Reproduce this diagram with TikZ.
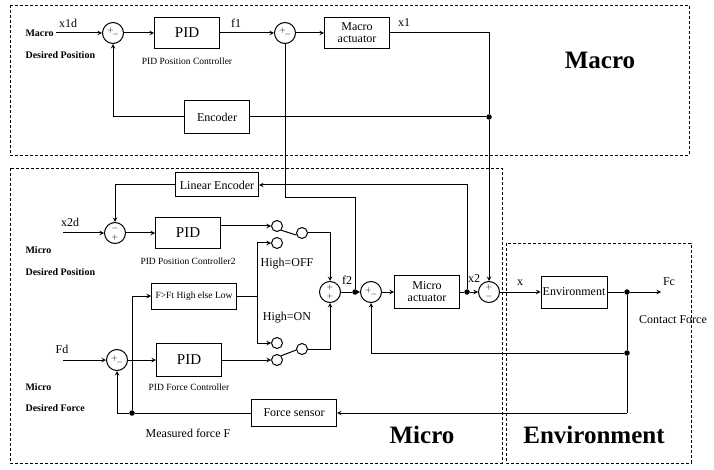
\documentclass[tikz,border=0pt]{standalone}
\usepackage{fontspec}
\setmainfont{Liberation Serif}
\usetikzlibrary{shapes,arrows,positioning}
\newcommand{\sgnpm}{\raisebox{1pt}{$+$}\kern-1.5pt\raisebox{-3pt}{$-$}}
\newcommand{\sgnmp}{$-$\\[1.5pt]$+$}
\newcommand{\sgnpp}{$+$\\[2pt]$+$}
\newcommand{\sgnpn}{$+$\\[1.5pt]$-$}

\begin{document}
\begin{tikzpicture}[x=1pt,y=-1pt,
    box/.style={rectangle,draw=black,line width=1pt,minimum width=65pt,minimum height=31pt,inner sep=1pt,align=center,font=\fontsize{12}{12}\selectfont},
    pidbox/.style={box,font=\fontsize{15}{15}\selectfont},
    sum/.style={circle,draw=black,line width=1pt,minimum size=21pt,inner sep=0pt,align=center,font=\fontsize{8.5}{7}\selectfont},
    contact/.style={circle,draw=black,line width=1pt,minimum size=11pt,inner sep=0pt},
    frame/.style={draw=black,densely dashed,line width=0.9pt},
    arrow/.style={->,>=stealth,line width=1pt},
    wire/.style={line width=1pt},
    dot/.style={circle,fill=black,minimum size=5.5pt,inner sep=0pt},
    labelstyle/.style={font=\fontsize{9.5}{10}\selectfont},
    sig/.style={font=\fontsize{12}{12}\selectfont},
    inlabel/.style={font=\bfseries\fontsize{10}{11}\selectfont,anchor=west},
    region/.style={font=\bfseries\fontsize{25}{26}\selectfont}
]
\useasboundingbox (0,0) rectangle (714,470);
\draw[frame] (10,5) rectangle (689,155);
\draw[frame] (10,168) rectangle (502,463);
\draw[frame] (506,243) rectangle (691,463);

\node[inlabel] (mtxt) at (22,33) {Macro};
\node[inlabel] (mdes) at (22,55) {Desired Position};
\node[sig] (x1d) at (68,23) {x1d};
\coordinate (in1) at (56,33);
\node[sum] (s1) at (113,33) {\sgnpm};
\node[pidbox] (pid1) at (187,33) {PID};
\node[labelstyle,below=5pt of pid1] (pid1l) {PID Position Controller};
\node[sig] (f1) at (236,23) {f1};
\node[sum] (s2) at (285,33) {\sgnpm};
\node[box] (mact) at (357,33) {Macro\\actuator};
\node[sig] (x1) at (404,23) {x1};
\coordinate (x1c) at (489,33);
\node[dot] (d1) at (489,117) {};
\node[box,minimum height=33pt] (enc) at (217,117) {Encoder};
\node[region] (macro) at (600,60) {Macro};

\node[box,minimum width=83pt,minimum height=24pt] (lenc) at (217,185) {Linear Encoder};
\node[sig] (x2d) at (70,222) {x2d};
\coordinate (in2) at (63,233);
\node[sum] (s3) at (115,233) {\sgnmp};
\node[pidbox] (pid2) at (188,233) {PID};
\node[labelstyle,below=5pt of pid2] (pid2l) {PID Position Controller2};
\node[inlabel] (mi1) at (22,250) {Micro};
\node[inlabel] (mi2) at (22,272) {Desired Position};
\node[contact] (k1a) at (277,226) {};
\node[contact] (k1b) at (277,243) {};
\node[contact] (k1c) at (302,233) {};
\node[sig] (hoff) at (287,264) {High=OFF};
\node[box,minimum width=85pt,minimum height=26pt,font=\fontsize{9.5}{10}\selectfont] (cmp) at (194,296) {F>Ft High else Low};
\coordinate (cmpj) at (257,296);
\node[sig] (hon) at (287,318) {High=ON};
\node[contact] (k2a) at (277,343) {};
\node[contact] (k2b) at (277,360) {};
\node[contact] (k2c) at (302,349) {};
\node[sum] (s4) at (330,292) {\sgnpp};
\node[sig] (f2) at (347,280) {f2};
\node[dot] (df2) at (355,292) {};
\coordinate (f2k) at (355,198);
\node[sum] (s6) at (371,292) {\sgnpm};
\node[box,minimum height=33pt] (miact) at (427,292) {Micro\\actuator};
\node[dot] (dx2) at (467,292) {};
\node[sig] (x2) at (474,279) {x2};
\node[sum] (s7) at (489,292) {\sgnpn};
\node[sig] (fd) at (62,349) {Fd};
\coordinate (in3) at (63,360);
\node[sum] (s5) at (117,360) {\sgnpm};
\node[pidbox,minimum height=33pt] (pid3) at (189,360) {PID};
\node[labelstyle,below=3pt of pid3] (pid3l) {PID Force Controller};
\node[inlabel] (mi3) at (22,387) {Micro};
\node[inlabel] (mi4) at (22,408) {Desired Force};
\node[dot] (dF) at (132,413) {};
\node[box,minimum width=85pt,minimum height=27pt] (fs) at (294,413) {Force sensor};
\node[sig] (mf) at (188,433) {Measured force F};
\node[region] (micro) at (422,435) {Micro};

\node[sig] (xl) at (520,283) {x};
\node[box,minimum width=66pt,minimum height=32pt,inner sep=0pt] (env) at (574,292) {Environment};
\node[dot] (dE) at (627,292) {};
\coordinate (fc) at (661,292);
\node[sig] (fcl) at (669,282) {Fc};
\node[sig] (cf) at (673,320) {Contact Force};
\node[dot] (dE2) at (627,353) {};
\coordinate (fsk) at (627,413);
\node[region] (envl) at (594,435) {Environment};

\draw[arrow] (in1) -- (s1);
\draw[arrow] (s1) -- (pid1);
\draw[arrow] (pid1) -- (s2);
\draw[arrow] (s2) -- (mact);
\draw[wire] (mact) -- (x1c) -- (d1);
\draw[arrow] (d1) -- (s7);
\draw[wire] (d1) -- (enc);
\draw[arrow] (enc) -| (s1);
\draw[wire] (df2) -- (f2k) -| (s2);

\draw[arrow] (dx2) |- (lenc);
\draw[arrow] (lenc) -| (s3);
\draw[arrow] (in2) -- (s3);
\draw[arrow] (s3) -- (pid2);
\draw[arrow] (pid2.east |- k1a) -- (k1a);
\draw[wire] (k1a.south east) -- (k1c.200);
\draw[arrow] (k1c) -| (s4);
\draw[wire] (cmp) -- (cmpj);
\draw[arrow] (cmpj) |- (k1b);
\draw[arrow] (cmpj) |- (k2a);
\draw[wire] (k2b.north east) -- (k2c.190);
\draw[arrow] (k2c) -| (s4);
\draw[wire] (s4) -- (df2);
\draw[arrow] (df2) -- (s6);
\draw[arrow] (s6) -- (miact);
\draw[wire] (miact) -- (dx2);
\draw[arrow] (dx2) -- (s7);
\draw[arrow] (in3) -- (s5);
\draw[arrow] (s5) -- (pid3);
\draw[arrow] (pid3) -- (k2b);
\draw[wire] (fs) -- (dF);
\draw[arrow] (dF) -| (s5);
\draw[arrow] (dF) |- (cmp);

\draw[arrow] (s7) -- (env);
\draw[wire] (env) -- (dE);
\draw[arrow] (dE) -- (fc);
\draw[wire] (dE) -- (dE2) -- (fsk);
\draw[arrow] (fsk) -- (fs);
\draw[arrow] (dE2) -| (s6);

\end{tikzpicture}
\end{document}
